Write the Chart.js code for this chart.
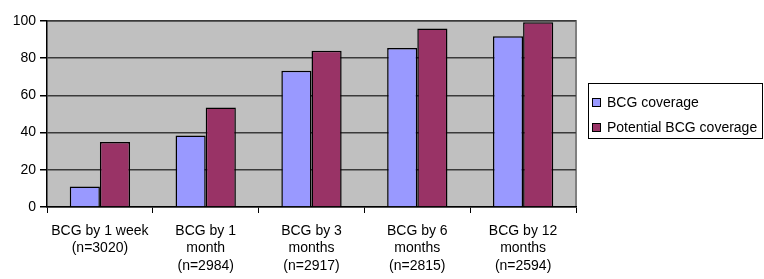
<!DOCTYPE html>
<html>
<head>
<meta charset="utf-8">
<script src="https://cdn.jsdelivr.net/npm/chart.js@4"></script>
<style>
  html, body { margin: 0; padding: 0; background: #fff; }
  #wrap { width: 764px; height: 279px; }
</style>
</head>
<body>
<div id="wrap"><canvas id="chart" width="764" height="279"></canvas></div>
<script>
const categories = [
    ["BCG by 1 week", "(n=3020)"],
    ["BCG by 1", "month", "(n=2984)"],
    ["BCG by 3", "months", "(n=2917)"],
    ["BCG by 6", "months", "(n=2815)"],
    ["BCG by 12", "months", "(n=2594)"]
];
const bcgCoverage = [11, 38.5, 73.3, 85.5, 91.8];
const potentialCoverage = [35, 53.5, 84, 96, 99.3];
const yTicks = [0, 20, 40, 60, 80, 100];

const FONT = "'Liberation Sans', Arial, sans-serif";

// grey plot area plus the light top/right frame
const plotBackground = {
    id: 'plotBackground',
    beforeDraw(chart) {
        const {ctx, chartArea: a} = chart;
        ctx.save();
        ctx.fillStyle = '#c0c0c0';
        ctx.fillRect(a.left, a.top, a.right - a.left, a.bottom - a.top);
        ctx.strokeStyle = '#808080';
        ctx.lineWidth = 2;
        ctx.beginPath();
        ctx.moveTo(a.left, a.top);
        ctx.lineTo(a.right, a.top);
        ctx.lineTo(a.right, a.bottom);
        ctx.stroke();
        ctx.restore();
    }
};

// boxed legend on the right, like the original
const boxLegend = {
    id: 'boxLegend',
    afterDraw(chart) {
        const ctx = chart.ctx;
        const x = 588, y = 83, w = 175, h = 56;
        ctx.save();
        ctx.fillStyle = '#fff';
        ctx.fillRect(x, y, w, h);
        ctx.strokeStyle = '#000';
        ctx.lineWidth = 1;
        ctx.strokeRect(x + 0.5, y + 0.5, w - 1, h - 1);
        ctx.font = '14px ' + FONT;
        ctx.textBaseline = 'middle';
        chart.data.datasets.forEach((ds, i) => {
            const cy = y + 19 + i * 25;
            ctx.fillStyle = ds.backgroundColor;
            ctx.fillRect(x + 4, cy - 4, 9, 9);
            ctx.strokeStyle = '#000';
            ctx.strokeRect(x + 4.5, cy - 3.5, 8, 8);
            ctx.fillStyle = '#000';
            ctx.fillText(ds.label, x + 19, cy + 1);
        });
        ctx.restore();
    }
};

new Chart(document.getElementById('chart'), {
    type: 'bar',
    data: {
        labels: categories,
        datasets: [{
            label: 'BCG coverage',
            data: bcgCoverage,
            backgroundColor: '#9999ff',
            borderColor: '#000',
            borderWidth: 1.5
        }, {
            label: 'Potential BCG coverage',
            data: potentialCoverage,
            backgroundColor: '#993366',
            borderColor: '#000',
            borderWidth: 1.5
        }]
    },
    options: {
        responsive: false,
        animation: false,
        devicePixelRatio: 1,
        layout: { padding: { left: 0, top: 21, right: 188, bottom: 0 } },
        datasets: { bar: { categoryPercentage: 0.57, barPercentage: 1.0 } },
        plugins: {
            legend: { display: false },
            tooltip: { enabled: false }
        },
        scales: {
            x: {
                offset: true,
                grid: { offset: true, drawOnChartArea: false, drawTicks: true, tickLength: 6, color: '#000', lineWidth: 1 },
                border: { color: '#000', width: 1.5 },
                ticks: {
                    color: '#000',
                    font: { family: FONT, size: 14, lineHeight: 1.25 },
                    padding: 9,
                    maxRotation: 0,
                    autoSkip: false
                },
                afterFit(scale) { scale.height = 72; }
            },
            y: {
                min: 0,
                max: 100,
                afterBuildTicks(scale) { scale.ticks = yTicks.map(v => ({ value: v })); },
                grid: { color: '#3a3a3a', lineWidth: 1.5, tickLength: 7, tickColor: '#000' },
                border: { color: '#000', width: 1.5 },
                ticks: {
                    color: '#000',
                    font: { family: FONT, size: 14 },
                    padding: 4
                },
                afterFit(scale) { scale.width = 47; }
            }
        }
    },
    plugins: [plotBackground, boxLegend]
});
</script>
</body>
</html>
